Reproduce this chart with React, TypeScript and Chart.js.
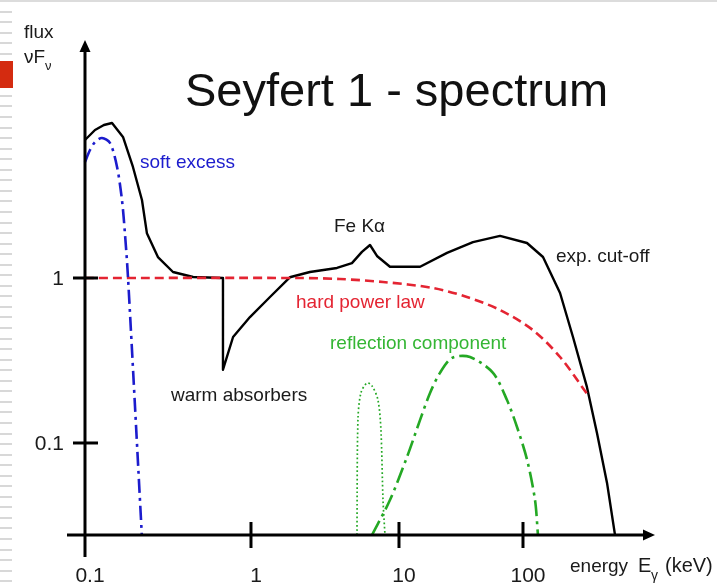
import { useEffect, useRef } from 'react';
import { Chart, registerables, LogarithmicScale } from 'chart.js';

// Photon energy (keV) and νFν (arbitrary units) for each spectral component
const totalEnergy = [0.1, 0.1149, 0.13, 0.1455, 0.1694, 0.1945, 0.2204, 0.236, 0.275, 0.339, 0.448, 0.678, 0.678, 0.78, 0.986, 1.344, 1.83, 2.5, 3.81, 4.81, 5.62, 6.37, 7.1, 8.69, 14.8, 24.4, 39.5, 65.3, 107.7, 145, 199, 253, 328, 395, 476, 552];
const totalFlux = [6.86, 7.89, 8.46, 8.7, 7.16, 4.71, 2.97, 1.87, 1.34, 1.087, 1.014, 1.0, 0.278, 0.439, 0.58, 0.767, 1.01, 1.087, 1.15, 1.23, 1.44, 1.585, 1.36, 1.17, 1.17, 1.42, 1.65, 1.8, 1.63, 1.34, 0.811, 0.439, 0.218, 0.115, 0.0573, 0.0277];

const powerLawEnergy = [0.1, 2.14, 3.99, 7.8, 18.8, 35.3, 65.3, 120, 199, 334];
const powerLawFlux = [1, 1, 0.986, 0.946, 0.87, 0.767, 0.64, 0.484, 0.332, 0.195];

const softExcessEnergy = [0.1, 0.1072, 0.1149, 0.1265, 0.1415, 0.156, 0.167, 0.174, 0.1816, 0.22];
const softExcessFlux = [5.05, 5.97, 6.67, 7.05, 6.58, 4.71, 2.97, 1.87, 1.01, 0.0277];

const reflectionEnergy = [6.57, 8.69, 11.6, 14.8, 17.8, 21.4, 26.8, 37.4, 57.3, 74.3, 89.5, 108, 125, 132];
const reflectionFlux = [0.0277, 0.0451, 0.0822, 0.138, 0.201, 0.266, 0.328, 0.332, 0.266, 0.182, 0.125, 0.0788, 0.0451, 0.0277];

const feLineEnergy = [5.2, 5.28, 5.53, 6.08, 6.57, 7.21, 7.55, 7.8, 8.04];
const feLineFlux = [0.0277, 0.138, 0.201, 0.231, 0.222, 0.182, 0.12, 0.0451, 0.0277];

const xTickValues = [0.1, 1, 10, 100];
const xTickLabels = ['0.1', '1', '10', '100'];
const yTickValues = [1, 0.1];
const yTickLabels = ['1', '0.1'];

const ENERGY_MIN = 0.0779;
const ENERGY_MAX = 1160;
const FLUX_MIN = 0.02769;
const FLUX_MAX = 27.7;

// The hand-drawn energy axis has unequal decades: each decade boundary
// sits at its own fraction of the axis length.
const DECADE_STOPS = [-1, 0, 1, 2];
const DECADE_POSITIONS = [0.0306, 0.3129, 0.5646, 0.7755];

class SegmentedLogScale extends LogarithmicScale {
  static id = 'segmentedLog';
  static defaults = LogarithmicScale.defaults;

  knots() {
    const logs = [Math.log10(this.min), ...DECADE_STOPS, Math.log10(this.max)];
    const fr = [0, ...DECADE_POSITIONS, 1];
    return { logs, fr };
  }

  getPixelForValue(value: number) {
    if (value === null || value === undefined || !(value > 0)) return NaN;
    const { logs, fr } = this.knots();
    const lg = Math.log10(value);
    let i = 0;
    while (i < logs.length - 2 && lg > logs[i + 1]) i++;
    const t = (lg - logs[i]) / (logs[i + 1] - logs[i]);
    return this.getPixelForDecimal(fr[i] + t * (fr[i + 1] - fr[i]));
  }

  getValueForPixel(pixel: number) {
    const d = this.getDecimalForPixel(pixel);
    const { logs, fr } = this.knots();
    let i = 0;
    while (i < fr.length - 2 && d > fr[i + 1]) i++;
    const t = (d - fr[i]) / (fr[i + 1] - fr[i]);
    return Math.pow(10, logs[i] + t * (logs[i + 1] - logs[i]));
  }
}

Chart.register(...registerables, SegmentedLogScale);

const FONT = '"Liberation Sans", Arial, Helvetica, sans-serif';
const RED = 'rgb(228, 36, 50)';
const BLUE = 'rgb(28, 28, 205)';
const GREEN = 'rgb(36, 168, 36)';
const GREEN_TEXT = 'rgb(52, 182, 52)';

const points = (xs: number[], ys: number[]) => xs.map((x, i) => ({ x, y: ys[i] }));

// Slide background: thin top rule, striped left margin and red bullet
const slidePlugin = {
  id: 'slideBackground',
  beforeDraw(chart: any) {
    const { ctx, width, height } = chart;
    ctx.save();
    ctx.fillStyle = '#ffffff';
    ctx.fillRect(0, 0, width, height);
    ctx.fillStyle = '#dcdcdc';
    ctx.fillRect(0, 0, width, 2);
    ctx.fillStyle = '#d8d8d8';
    for (let y = 10.5; y < height; y += 10.55) ctx.fillRect(0, Math.round(y), 12, 2);
    ctx.fillStyle = '#d42b10';
    ctx.fillRect(0, 61, 13, 27);
    ctx.restore();
  },
};

// Axes with arrowheads, tick marks, tick labels and annotations
const sketchPlugin = {
  id: 'sketchAxes',
  afterDatasetsDraw(chart: any) {
    const { ctx } = chart;
    const xs = chart.scales.x;
    const ys = chart.scales.y;
    const ax = xs.getPixelForValue(xTickValues[0]);
    const ay = ys.bottom;

    ctx.save();
    ctx.strokeStyle = '#000';
    ctx.fillStyle = '#000';
    ctx.lineWidth = 3;
    ctx.lineCap = 'butt';

    // vertical axis
    ctx.beginPath();
    ctx.moveTo(ax, ay + 22);
    ctx.lineTo(ax, ys.top + 8);
    ctx.stroke();
    ctx.beginPath();
    ctx.moveTo(ax, ys.top);
    ctx.lineTo(ax - 5.5, ys.top + 12);
    ctx.lineTo(ax + 5.5, ys.top + 12);
    ctx.closePath();
    ctx.fill();

    // horizontal axis
    ctx.beginPath();
    ctx.moveTo(xs.left, ay);
    ctx.lineTo(xs.right - 8, ay);
    ctx.stroke();
    ctx.beginPath();
    ctx.moveTo(xs.right, ay);
    ctx.lineTo(xs.right - 12, ay - 5.5);
    ctx.lineTo(xs.right - 12, ay + 5.5);
    ctx.closePath();
    ctx.fill();

    // tick marks
    yTickValues.forEach((v) => {
      const py = ys.getPixelForValue(v);
      ctx.beginPath();
      ctx.moveTo(ax - 12, py);
      ctx.lineTo(ax + 13, py);
      ctx.stroke();
    });
    xTickValues.slice(1).forEach((v) => {
      const px = xs.getPixelForValue(v);
      ctx.beginPath();
      ctx.moveTo(px, ay - 13);
      ctx.lineTo(px, ay + 13);
      ctx.stroke();
    });

    // tick labels
    ctx.fillStyle = '#1a1a1a';
    ctx.font = `21px ${FONT}`;
    ctx.textAlign = 'center';
    ctx.textBaseline = 'alphabetic';
    xTickValues.forEach((v, i) => {
      ctx.fillText(xTickLabels[i], xs.getPixelForValue(v) + 5, ay + 47);
    });
    ctx.textAlign = 'right';
    ctx.textBaseline = 'middle';
    yTickValues.forEach((v, i) => {
      ctx.fillText(yTickLabels[i], ax - 21, ys.getPixelForValue(v) + 1);
    });

    // axis titles
    ctx.textAlign = 'left';
    ctx.textBaseline = 'alphabetic';
    ctx.font = `19px ${FONT}`;
    ctx.fillText('flux', 24, 38);
    ctx.fillText('νF', 24, 63);
    const nuF = ctx.measureText('νF').width;
    ctx.font = `13px ${FONT}`;
    ctx.fillText('ν', 24 + nuF, 70);

    ctx.font = `19px ${FONT}`;
    ctx.fillText('energy', 570, 572);
    ctx.font = `20px ${FONT}`;
    ctx.fillText('E', 638, 572);
    ctx.font = `14px ${FONT}`;
    ctx.fillText('γ', 651, 580);
    ctx.font = `20px ${FONT}`;
    ctx.fillText('(keV)', 665, 572);

    // title
    ctx.fillStyle = '#111';
    ctx.font = `47px ${FONT}`;
    ctx.fillText('Seyfert 1 - spectrum', 185, 106);

    // component annotations
    ctx.font = `19px ${FONT}`;
    ctx.fillStyle = BLUE;
    ctx.fillText('soft excess', 140, 168);
    ctx.fillStyle = '#1a1a1a';
    ctx.fillText('Fe Kα', 334, 232);
    ctx.fillText('exp. cut-off', 556, 262);
    ctx.fillText('warm absorbers', 171, 401);
    ctx.fillStyle = RED;
    ctx.fillText('hard power law', 296, 308);
    ctx.fillStyle = GREEN_TEXT;
    ctx.fillText('reflection component', 330, 349);

    ctx.restore();
  },
};

export default function App() {
  const canvasRef = useRef<HTMLCanvasElement | null>(null);

  useEffect(() => {
    const canvas = canvasRef.current;
    if (!canvas) return;
    const chart = new Chart(canvas, {
      type: 'line',
      data: {
        datasets: [
          {
            label: 'reflection (Fe line)',
            data: points(feLineEnergy, feLineFlux),
            borderColor: GREEN,
            borderWidth: 1.7,
            borderDash: [1.7, 2.5],
            pointRadius: 0,
            tension: 0.3,
            fill: false,
          },
          {
            label: 'reflection component',
            data: points(reflectionEnergy, reflectionFlux),
            borderColor: GREEN,
            borderWidth: 2.6,
            borderDash: [16, 5, 3, 5],
            pointRadius: 0,
            tension: 0.3,
            fill: false,
          },
          {
            label: 'soft excess',
            data: points(softExcessEnergy, softExcessFlux),
            borderColor: BLUE,
            borderWidth: 2.6,
            borderDash: [14, 5, 3, 5],
            pointRadius: 0,
            tension: 0.3,
            fill: false,
          },
          {
            label: 'hard power law',
            data: points(powerLawEnergy, powerLawFlux),
            borderColor: RED,
            borderWidth: 2.6,
            borderDash: [9, 5],
            pointRadius: 0,
            tension: 0.3,
            fill: false,
          },
          {
            label: 'total',
            data: points(totalEnergy, totalFlux),
            borderColor: '#000',
            borderWidth: 2.4,
            pointRadius: 0,
            tension: 0,
            borderJoinStyle: 'round',
            fill: false,
          },
        ],
      },
      options: {
        responsive: false,
        animation: false,
        devicePixelRatio: 1,
        events: [],
        layout: { padding: { left: 67, top: 40, right: 62, bottom: 49 } },
        plugins: {
          legend: { display: false },
          tooltip: { enabled: false },
          title: { display: false },
        },
        scales: {
          x: {
            type: 'segmentedLog' as any,
            min: ENERGY_MIN,
            max: ENERGY_MAX,
            bounds: 'data',
            display: false,
          },
          y: {
            type: 'logarithmic',
            min: FLUX_MIN,
            max: FLUX_MAX,
            bounds: 'data',
            display: false,
          },
        },
      },
      plugins: [slidePlugin, sketchPlugin],
    });
    return () => chart.destroy();
  }, []);

  return (
    <div style={{ position: 'fixed', left: 0, top: 0, width: 717, height: 584, background: '#fff' }}>
      <canvas ref={canvasRef} width={717} height={584} style={{ display: 'block' }} />
    </div>
  );
}
